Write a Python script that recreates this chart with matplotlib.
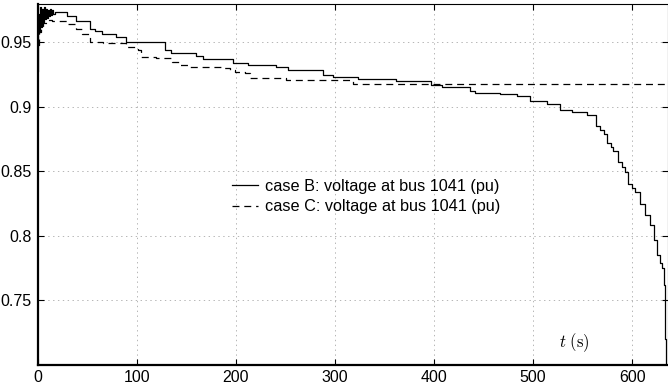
import numpy as np
import matplotlib
matplotlib.use('Agg')
import matplotlib.pyplot as plt
from matplotlib.ticker import FormatStrFormatter

plt.rcParams['font.family'] = ['Liberation Sans', 'DejaVu Sans']
plt.rcParams['mathtext.fontset'] = 'cm'
plt.rcParams['lines.scale_dashes'] = False

# case B: voltage at bus 1041 (pu), step breakpoints
t_b = [0, 0.5, 1, 2, 3, 4, 5, 6, 7, 8, 9, 10, 11, 12, 13, 14, 15, 16, 18, 30,
       39, 53, 58, 64.6, 79.5, 89, 129, 135, 160, 167, 182, 197, 212, 241, 253,
       288, 298, 323, 362, 397, 408, 436, 441, 467, 484, 497, 514, 527, 539, 554,
       563, 567, 571, 574, 578, 581, 586, 590, 593, 596, 600, 603, 608, 613, 618,
       621.5, 625, 628, 630, 631.5, 632.5, 633.2, 633.5]
v_b = [0.928, 0.955, 0.972, 0.958, 0.977, 0.962, 0.976, 0.966, 0.977, 0.968,
       0.976, 0.969, 0.975, 0.970, 0.976, 0.971, 0.975, 0.972, 0.9735, 0.970,
       0.9664, 0.9605, 0.959, 0.9567, 0.954, 0.9505, 0.9438, 0.9413, 0.9395,
       0.9372, 0.9367, 0.9336, 0.932, 0.931, 0.9285, 0.9246, 0.9233, 0.9215,
       0.920, 0.917, 0.9151, 0.9118, 0.9105, 0.910, 0.908, 0.904, 0.902, 0.8972,
       0.8957, 0.8933, 0.8849, 0.882, 0.8785, 0.872, 0.869, 0.8656, 0.8567,
       0.853, 0.849, 0.840, 0.837, 0.8336, 0.8246, 0.8156, 0.8079, 0.7964,
       0.7849, 0.779, 0.7746, 0.7618, 0.7464, 0.72, 0.69]

# case C: voltage at bus 1041 (pu)
t_c = [0, 2, 4, 6, 10, 15, 30, 39, 45, 52.5, 66, 89.6, 101, 104.7, 120, 136, 143,
       151.5, 187, 194, 199, 209, 214, 251, 318, 636]
v_c = [0.948, 0.958, 0.962, 0.965, 0.967, 0.9665, 0.9638, 0.9605, 0.9567, 0.9502,
       0.949, 0.9464, 0.9438, 0.9387, 0.9375, 0.9348, 0.9323, 0.931, 0.9298,
       0.9285, 0.9272, 0.926, 0.9225, 0.9208, 0.9177, 0.9177]

x_ticks = [0, 100, 200, 300, 400, 500, 600]
y_ticks = [0.75, 0.8, 0.85, 0.9, 0.95]

fig = plt.figure(figsize=(6.68, 3.92), dpi=100)
ax = fig.add_axes([37.5 / 668, 1 - 364.5 / 392, 1 - 37.5 / 668, 361 / 392])

ax.plot(t_b, v_b, color='black', lw=0.9, drawstyle='steps-post',
        label='case B: voltage at bus 1041 (pu)')
ax.plot(t_c, v_c, color='black', lw=0.9, drawstyle='steps-post',
        dashes=(5, 3.5), label='case C: voltage at bus 1041 (pu)')

ax.set_xlim(0, 636)
ax.set_ylim(0.70, 0.98)
ax.set_xticks(x_ticks)
ax.set_yticks(y_ticks)
ax.yaxis.set_major_formatter(FormatStrFormatter('%g'))
ax.tick_params(direction='in', length=4, width=0.8, labelsize=11.5,
               top=True, right=True, pad=4)
ax.grid(True, linestyle=(0, (1, 2.5)), color='#aaaaaa', lw=0.6)

for side in ['left', 'bottom']:
    ax.spines[side].set_linewidth(1.6)
for side in ['top', 'right']:
    ax.spines[side].set_linewidth(0.8)

ax.text(542, 0.717, r'$t\ (\mathrm{s})$', ha='center', va='center', fontsize=12)

ax.legend(loc='upper left', bbox_to_anchor=(232 / 668, 1 - 179 / 392),
          bbox_transform=fig.transFigure, frameon=False, borderpad=0,
          borderaxespad=0, handlelength=1.57, handletextpad=0.44,
          labelspacing=0.33, fontsize=11.7)

fig.savefig('out.png', dpi=100)
